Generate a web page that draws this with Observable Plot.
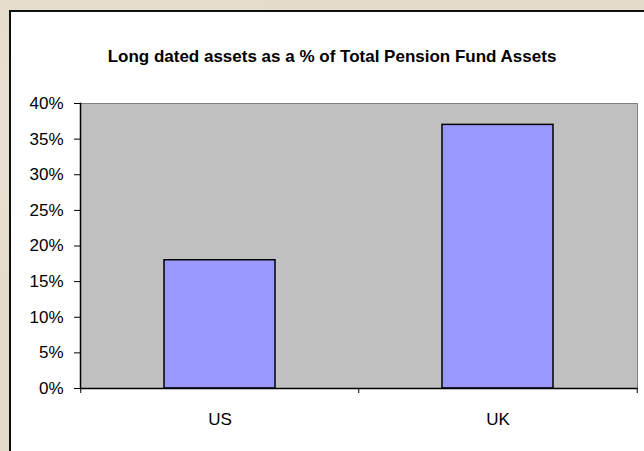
<!DOCTYPE html>
<html><head><meta charset="utf-8">
<script src="https://cdn.jsdelivr.net/npm/d3@7"></script>
<script src="https://cdn.jsdelivr.net/npm/@observablehq/plot@0.6"></script>
<style>
html,body{margin:0;padding:0;width:644px;height:451px;overflow:hidden;}
body{background:#E4DBCA;background-image:radial-gradient(ellipse at 20% 30%, rgba(255,255,255,0.25), rgba(0,0,0,0) 40%),radial-gradient(ellipse at 80% 70%, rgba(190,175,150,0.25), rgba(0,0,0,0) 45%);position:relative;}
#box{position:absolute;left:9px;top:10px;width:700px;height:500px;background:#fff;border-left:2px solid #111;border-top:2px solid #111;}
#title{position:absolute;left:10px;width:644px;top:48px;text-align:center;font:bold 17px "Liberation Sans",Arial,sans-serif;line-height:17px;color:#000;white-space:nowrap;}
#chart{position:absolute;left:0;top:0;}
</style></head>
<body>
<div id="box"></div>
<div id="title">Long dated assets as a % of Total Pension Fund Assets</div>
<div id="chart"></div>
<script>
const categories = ["US", "UK"];
const values = [0.18, 0.37];
const yTicks = [0, 0.05, 0.10, 0.15, 0.20, 0.25, 0.30, 0.35, 0.40];

const W = 644, H = 451, mL = 80, mR = 7, mT = 103, mB = 63;
const step = (W - mL - mR) / categories.length;
const data = categories.map((c, i) => ({cat: c, value: values[i]}));

const chart = Plot.plot({
  width: W, height: H,
  marginLeft: mL, marginRight: mR, marginTop: mT, marginBottom: mB,
  style: {background: "transparent", fontFamily: "'Liberation Sans', Arial, sans-serif", fontSize: "17px", color: "#000"},
  x: {domain: categories, paddingInner: 0.6, paddingOuter: 0.3, label: null, axis: null},
  y: {domain: [0, 0.4], label: null, axis: null},
  marks: [
    Plot.frame({fill: "#C0C0C0", stroke: "#808080", strokeWidth: 1}),
    Plot.barY(data, {x: "cat", y: "value", fill: "#9999FF", stroke: "#000", strokeWidth: 1.5}),
    Plot.ruleY([0], {stroke: "#000", strokeWidth: 1.5}),
    Plot.frame({anchor: "left", stroke: "#000", strokeWidth: 1.5}),
    Plot.axisY({ticks: yTicks, tickFormat: d3.format(".0%"), tickSize: 6, tickPadding: 11, label: null, fontSize: 17, stroke: "#000"}),
    Plot.axisX({tickSize: 0, tickPadding: 24, label: null, fontSize: 17}),
    Plot.axisX(categories, {tickSize: 5, tickFormat: () => "", dx: -step / 2, label: null, stroke: "#000"}),
    Plot.axisX([categories[categories.length - 1]], {tickSize: 5, tickFormat: () => "", dx: step / 2, label: null, stroke: "#000"})
  ]
});
document.getElementById("chart").appendChild(chart);
</script>
</body></html>
